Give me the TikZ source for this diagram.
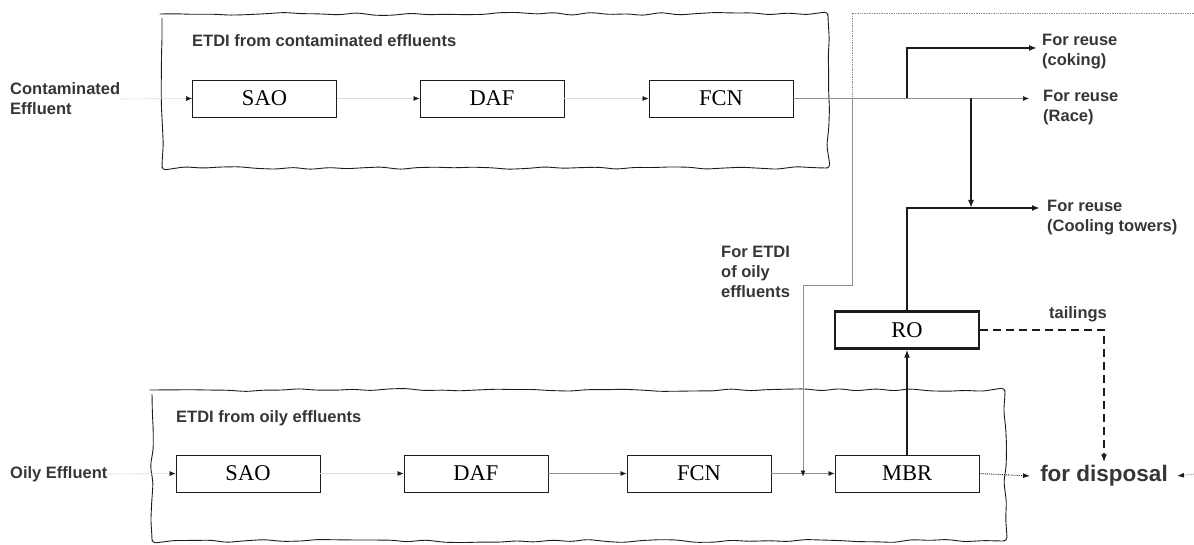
\documentclass[tikz,border=0pt]{standalone}
\usepackage{fontspec}
\setmainfont{Liberation Serif}
\setsansfont{Liberation Sans}
\usetikzlibrary{arrows.meta,decorations.pathmorphing}
\definecolor{ETText}{HTML}{363636}
\definecolor{ETLine}{HTML}{8E8E8E}
\definecolor{ETFaint}{HTML}{DADADA}
\definecolor{ETInk}{HTML}{1C1C1C}

\begin{document}
\begin{tikzpicture}[x=1pt,y=-1pt,
  unit/.style={draw=ETInk,line width=0.9pt,minimum width=144pt,minimum height=37pt,inner sep=0pt,font=\fontsize{22.5}{24}\selectfont},
  lbl/.style={font=\sffamily\bfseries\fontsize{16.5}{20}\selectfont,text=ETText,align=left,inner sep=0pt},
  tipdark/.style={-{Latex[length=6pt,width=5pt,color=ETInk]}},
  faintflow/.style={draw=ETFaint,line width=0.6pt,tipdark},
  midflow/.style={draw=ETLine,line width=0.7pt,tipdark},
  mainflow/.style={draw=ETInk,line width=2.2pt},
  wavy/.style={draw=ETInk,line width=0.9pt,decorate,decoration={random steps,segment length=18pt,amplitude=1.6pt},rounded corners=4pt}]
\path[use as bounding box] (0,0) rectangle (1194,545);
\pgfmathsetseed{11}
\draw[wavy] (162,14) rectangle (828,168);
\draw[wavy] (152,390) rectangle (1005,541);

% contaminated line
\node[lbl,anchor=west] (contIn) at (10,99) {Contaminated\\Effluent};
\node[lbl,anchor=west] (tTitle) at (192,41) {ETDI from contaminated effluents};
\node[unit] (tSAO) at (264.5,98.5) {SAO};
\node[unit] (tDAF) at (492,98.5) {DAF};
\node[unit] (tFCN) at (721,98.5) {FCN};

% oily line
\node[lbl,anchor=west] (oilIn) at (10,474) {Oily Effluent};
\node[lbl,anchor=west] (bTitle) at (176,418) {ETDI from oily effluents};
\node[unit] (bSAO) at (248,473.5) {SAO};
\node[unit] (bDAF) at (476,473.5) {DAF};
\node[unit] (bFCN) at (699,473.5) {FCN};
\node[unit] (MBR) at (907,473.5) {MBR};
\node[unit,line width=2.2pt] (RO) at (907,330) {RO};

% outlets
\node[lbl,anchor=west] (coking) at (1042,52) {For reuse\\(coking)};
\node[lbl,anchor=west] (race) at (1043,108) {For reuse\\(Race)};
\node[lbl,anchor=west] (cooling) at (1047,218) {For reuse\\(Cooling towers)};
\node[lbl,anchor=west] (recycle) at (721,272) {For ETDI\\of oily\\effluents};
\node[lbl] (tailings) at (1078,314) {tailings};
\node[lbl,font=\sffamily\bfseries\fontsize{22.5}{24}\selectfont,inner sep=3pt] (disposal) at (1104,476) {for disposal};

\coordinate (splitA) at (907,98.5);
\coordinate (splitB) at (971,98.5);
\coordinate (recyc) at (852,98.5);
\coordinate (dotCorner) at (852,13);
\coordinate (dotEdge) at (1194,13);
\coordinate (bendA) at (852,285);
\coordinate (bendB) at (803,285);
\coordinate (joinOil) at (803,473.5);
\coordinate (edgeR) at (1194,474);

\draw[faintflow] (contIn.east) -- (tSAO.west);
\draw[faintflow] (tSAO) -- (tDAF);
\draw[faintflow] (tDAF) -- (tFCN);
\draw[midflow] (tFCN.east) -- ([xshift=-14]race.west |- splitA);
\draw[mainflow,-{Latex[length=8pt,width=6pt]}] (splitA) |- ([xshift=-5]coking.west |- 0,48);
\draw[mainflow,-{Latex[length=8pt,width=6pt]}] (splitB) -- (splitB |- 0,208);
\draw[mainflow,-{Latex[length=8pt,width=6pt]}] (RO.north) |- ([xshift=-7]cooling.west |- 0,208);

\draw[faintflow] (oilIn.east) -- (bSAO.west);
\draw[faintflow] (bSAO) -- (bDAF);
\draw[midflow] (bDAF) -- (bFCN);
\draw[midflow] (bFCN) -- (MBR);
\draw[mainflow,-{Latex[length=8pt,width=6pt]}] (MBR) -- (RO);

\draw[ETLine,line width=0.7pt,densely dotted] (dotEdge) -- (dotCorner) -- (recyc);
\draw[midflow] (recyc) -- (bendA) -- (bendB) -- ([yshift=-3]joinOil);

\draw[ETInk,line width=1.8pt,dash pattern=on 8pt off 5pt,-{Latex[length=8pt,width=6pt]}] (RO.east) -| (disposal.north);
\draw[ETInk,line width=0.9pt,densely dotted,-{Latex[length=7pt,width=5pt]}] (MBR.east) -- ([xshift=-7]disposal.west);
\draw[ETLine,line width=0.9pt,densely dotted,-{Latex[length=7pt,width=5pt,color=ETInk]}] (edgeR) -- ([xshift=6]disposal.east);
\end{tikzpicture}
\end{document}
